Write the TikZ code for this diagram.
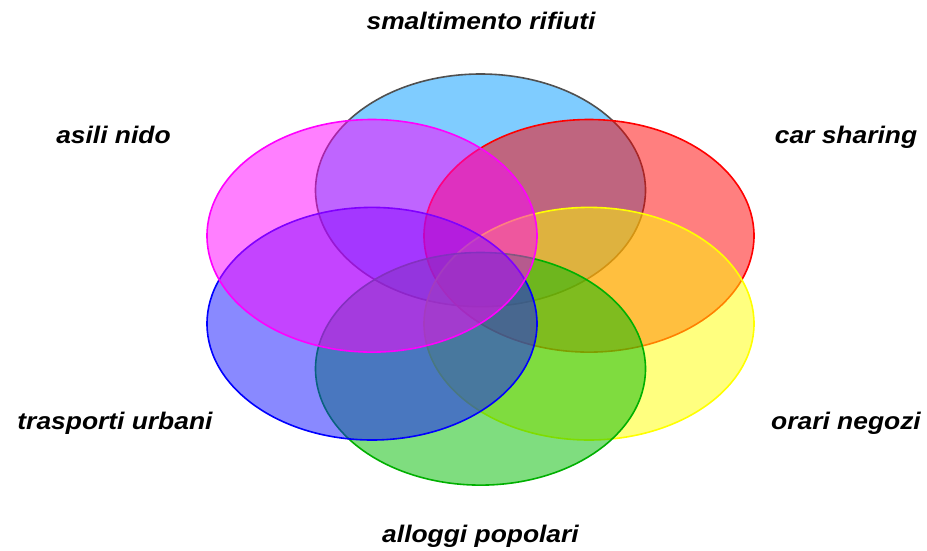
\documentclass[tikz,border=0pt]{standalone}
\usepackage{fontspec}
\setmainfont{Liberation Sans}
\definecolor{cTop}{RGB}{0,153,255}
\definecolor{cTopLine}{RGB}{80,80,80}
\definecolor{cRed}{RGB}{255,0,0}
\definecolor{cYel}{RGB}{255,255,0}
\definecolor{cGrn}{RGB}{0,187,0}
\definecolor{cGrnLine}{RGB}{0,176,0}
\definecolor{cBlu}{RGB}{20,20,255}
\definecolor{cMag}{RGB}{255,0,255}
\begin{document}
\begin{tikzpicture}[x=1pt,y=-1pt,
  blob/.style={line width=1.6pt, fill opacity=0.5, draw opacity=1},
  lbl/.style={font=\fontsize{24}{28}\selectfont\bfseries\itshape, anchor=base, inner sep=0pt, xscale=1.1, transform shape}]
\useasboundingbox (0,0) rectangle (927,550);
\path[blob, draw=cTopLine, fill=cTop] (480.5,190.3) ellipse [x radius=165, y radius=116.3];
\path[blob, draw=cRed, fill=cRed] (589,235.8) ellipse [x radius=165, y radius=116.3];
\path[blob, draw=cYel, fill=cYel] (589,323.7) ellipse [x radius=165, y radius=116.3];
\path[blob, draw=cGrnLine, fill=cGrn] (480.5,368.8) ellipse [x radius=165, y radius=116.3];
\path[blob, draw=blue, fill=cBlu] (372,323.7) ellipse [x radius=165, y radius=116.3];
\path[blob, draw=cMag, fill=cMag] (372,235.8) ellipse [x radius=165, y radius=116.3];
\node[lbl] (t1) at (481,29) {smaltimento rifiuti};
\node[lbl] (t2) at (113.5,143) {asili nido};
\node[lbl] (t3) at (846,143) {car sharing};
\node[lbl] (t4) at (115,429) {trasporti urbani};
\node[lbl] (t5) at (846,429) {orari negozi};
\node[lbl] (t6) at (480.5,542) {alloggi popolari};
\end{tikzpicture}
\end{document}
